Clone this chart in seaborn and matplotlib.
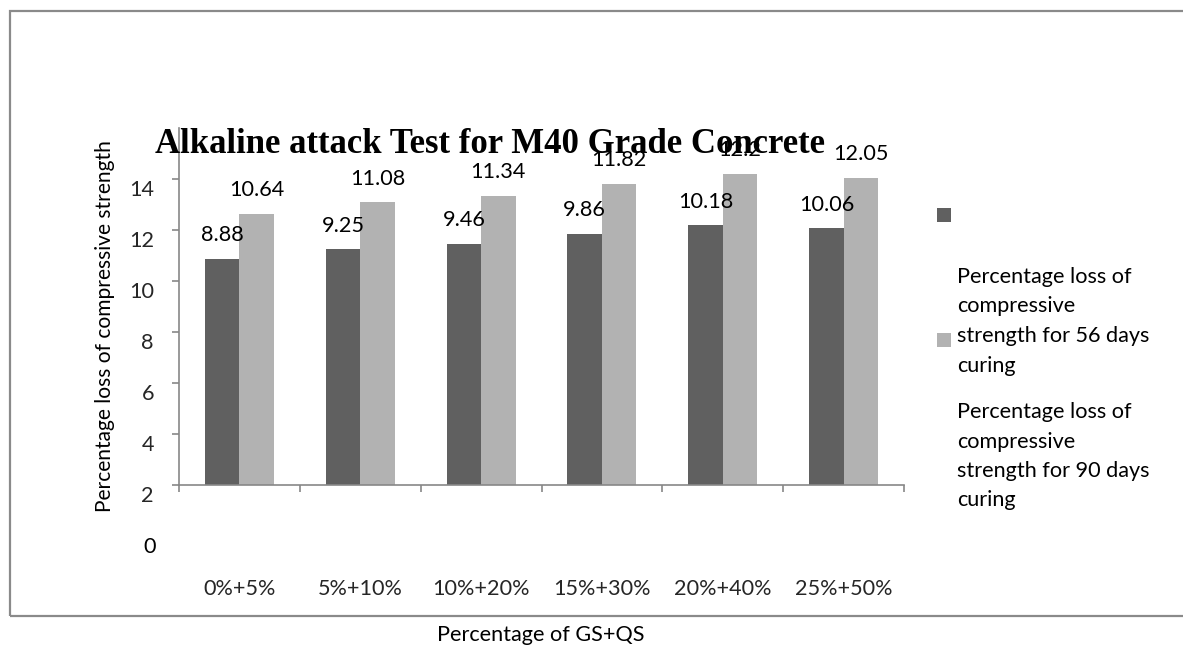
import matplotlib
matplotlib.use('Agg')
import matplotlib.pyplot as plt
import matplotlib.transforms as mtrans
from matplotlib.patches import Rectangle
import seaborn as sns
import pandas as pd

# ---------------- data ----------------
categories = ['0%+5%', '5%+10%', '10%+20%', '15%+30%', '20%+40%', '25%+50%']
series_dark = [8.88, 9.25, 9.46, 9.86, 10.18, 10.06]
series_light = [10.64, 11.08, 11.34, 11.82, 12.2, 12.05]
series_keys = ['Series 1', 'Series 2']
legend_labels = ['',
                 'Percentage loss of\ncompressive\nstrength for 56 days\ncuring',
                 'Percentage loss of\ncompressive\nstrength for 90 days\ncuring']
ytick_values = [0, 2, 4, 6, 8, 10, 12]
ytick_labels = ['2', '4', '6', '8', '10', '12', '14']
title = 'Alkaline attack Test for M40 Grade Concrete'
xlabel = 'Percentage of GS+QS'
ylabel = 'Percentage loss of compressive strength'

DARK = '#606060'
LIGHT = '#b2b2b2'
AXC = '#878787'
FS = 15.6

W, H = 1183, 646
sns.set_theme(style='white')
plt.rcParams['font.family'] = ['Lato', 'DejaVu Sans']
plt.rcParams['text.color'] = 'black'

fig = plt.figure(figsize=(W / 100, H / 100), dpi=100)
fx = lambda x: x / W
fy = lambda y: 1 - y / H

ax = fig.add_axes([fx(179), fy(485), (904 - 179) / W, (485 - 128) / H])
ax.set_facecolor('none')

df = pd.DataFrame({
    'Mix': categories * 2,
    'Loss': series_dark + series_light,
    'Series': [series_keys[0]] * len(categories) + [series_keys[1]] * len(categories),
})
sns.barplot(data=df, x='Mix', y='Loss', hue='Series', hue_order=series_keys,
            palette=[DARK, LIGHT], width=0.571, gap=0, saturation=1,
            errorbar=None, linewidth=0, legend=False, ax=ax)

ax.set_xlim(-0.5, len(categories) - 0.5)
ax.set_ylim(0, 14)
ax.set_xlabel('')
ax.set_ylabel('')
for s in ['top', 'right']:
    ax.spines[s].set_visible(False)
for s in ['left', 'bottom']:
    ax.spines[s].set_color(AXC)
    ax.spines[s].set_linewidth(1.2)

# x ticks: boundaries (major, marks only) + centres (minor, labels only)
ax.set_xticks([i - 0.5 for i in range(len(categories) + 1)])
ax.set_xticklabels([])
ax.set_xticks(range(len(categories)), minor=True)
ax.set_xticklabels(categories, minor=True, fontsize=FS)
ax.tick_params(axis='x', which='major', direction='out', length=5, width=1.2,
               color=AXC, bottom=True)
ax.tick_params(axis='x', which='minor', length=0, pad=68)

# y ticks (labels shifted one step as in the original)
ax.set_yticks(ytick_values)
ax.set_yticklabels(ytick_labels, fontsize=FS)
ax.tick_params(axis='y', direction='out', length=5, width=1.2, color=AXC,
               left=True, pad=13)
shift = mtrans.ScaledTranslation(0, -9 / 100, fig.dpi_scale_trans)
for lbl in ax.get_yticklabels():
    lbl.set_transform(lbl.get_transform() + shift)
fig.text(fx(156), fy(547), '0', ha='right', va='center', fontsize=FS)

# bar value labels
for cont in ax.containers:
    for bar in cont:
        v = bar.get_height()
        ax.annotate(f'{v:g}', (bar.get_x() + bar.get_width() / 2, v),
                    xytext=(0, 23.5), textcoords='offset pixels',
                    ha='center', va='center', fontsize=FS)

# title and axis titles
fig.text(fx(490), fy(153), title, ha='center', va='baseline',
         family='Liberation Serif', weight='bold', fontsize=25)
fig.text(fx(105), fy(326), ylabel, rotation=90, ha='center', va='center',
         fontsize=15.1)
fig.text(fx(541), fy(635), xlabel, ha='center', va='center', fontsize=FS)

# outer frame
fig.patches.append(Rectangle((fx(10), fy(616)), (1200 - 10) / W, (616 - 11) / H,
                             transform=fig.transFigure, fill=False,
                             edgecolor='#8a8a8a', linewidth=1.6, clip_on=False))

# legend (manual, as in the original layout)
for (x0, y0), col in zip([(937, 208), (937, 333)], [DARK, LIGHT]):
    fig.patches.append(Rectangle((fx(x0), fy(y0 + 14)), 14 / W, 14 / H,
                                 transform=fig.transFigure, facecolor=col,
                                 edgecolor='none'))
for start, lab in zip([None, 277, 412], legend_labels):
    if start is None:
        continue
    for i, line in enumerate(lab.split('\n')):
        fig.text(fx(957), fy(start + i * 29.5), line, ha='left', va='center',
                 fontsize=FS)

fig.savefig('out.png', dpi=100)
